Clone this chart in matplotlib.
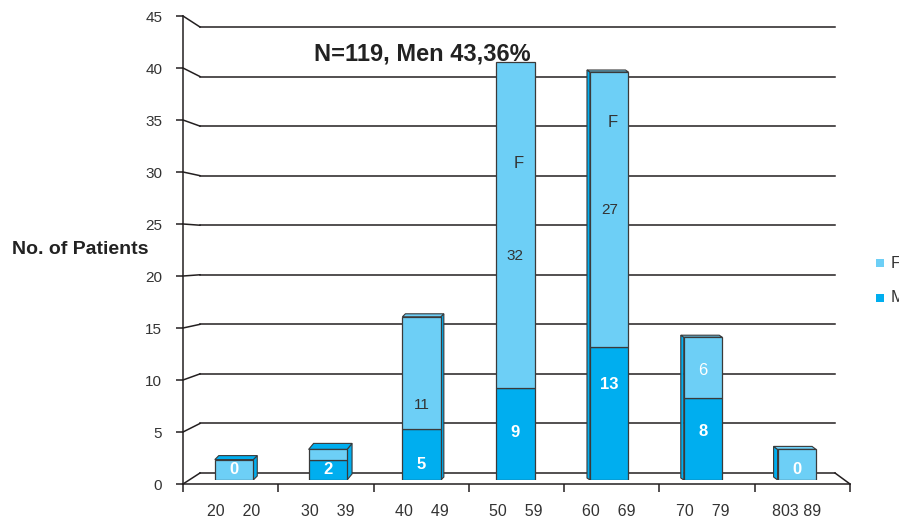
import matplotlib
matplotlib.use("Agg")
import matplotlib.pyplot as plt
from matplotlib.patches import Polygon
import numpy as np

plt.rcParams["font.family"] = ["Liberation Sans", "DejaVu Sans"]

# ── data ─────────────────────────────────────────────────────────────────────
age_groups = ["20    20", "30    39", "40    49", "50    59", "60    69", "70    79", "803 89"]
men = [0, 2, 5, 9, 13, 8, 0]
women = [2, 1, 11, 32, 27, 6, 3]
title = "N=119, Men 43,36%"

# ── style / layout ───────────────────────────────────────────────────────────
LIGHT = "#6dcff6"
DARK = "#00aeef"
EDGE = "#3a3a3a"
LINE = "#231f20"
W, H = 899, 519


def frac(x0, y_top, x1, y_bot):
    """pixel box -> figure fraction rect"""
    return [x0 / W, 1 - y_bot / H, (x1 - x0) / W, (y_bot - y_top) / H]


# label positions (data units) and 3D depth offsets (pixels)
men_label_y = [1.0, 1.0, 1.5, 4.7, 9.4, 4.8, 1.0]
women_label_y = [None, None, 7.4, 22.0, 26.5, 10.7, None]
f_mark_y = [None, None, None, 31.0, 35.0, None, None]
depth = [(4, 4), (5, 6), (3, 3), (0, 0), (-3, 2), (-3, 2), (-4, 3)]

fig = plt.figure(figsize=(W / 100, H / 100), dpi=100)

# back wall gridlines
ax_back = fig.add_axes(frac(200, 27, 835, 473))
ax_back.set_ylim(0, 45)
ax_back.set_xlim(0, 1)
ax_back.axis("off")
ticks = np.arange(0, 50, 5)
for v in ticks:
    ax_back.axhline(v, color=LINE, lw=1.1, clip_on=False)

# front axis
ax_front = fig.add_axes(frac(183, 16, 850, 484))
ax_front.set_ylim(0, 45)
ax_front.set_xlim(0, len(men))
ax_front.patch.set_alpha(0)
for s in ["top", "right"]:
    ax_front.spines[s].set_visible(False)
for s in ["left", "bottom"]:
    ax_front.spines[s].set_color(LINE)
    ax_front.spines[s].set_linewidth(1.1)
ax_front.set_yticks(ticks)
ax_front.set_xticks(np.arange(0, len(men) + 1) + 0.0)
ax_front.set_xticklabels([])
ax_front.tick_params(axis="y", length=5, width=1.1, color=LINE, labelsize=11,
                     labelcolor="#333333", pad=10)
ax_front.tick_params(axis="x", length=6, width=1.1, color=LINE)

# diagonal connectors between front ticks and back gridlines
fig.canvas.draw()
for v in ticks:
    p0 = ax_front.transData.transform((0, v))
    p1 = ax_back.transData.transform((0, v))
    fig.add_artist(plt.Line2D([p0[0], p1[0]], [p0[1], p1[1]], color=LINE, lw=1.1,
                              transform=None))
p0 = ax_front.transData.transform((len(men), 0))
p1 = ax_back.transData.transform((1, 0))
fig.add_artist(plt.Line2D([p1[0], p0[0]], [p1[1], p0[1]], color=LINE, lw=1.1,
                          transform=None))

# bars
ax = fig.add_axes(frac(183, 21, 850, 480))
ax.set_xlim(-0.544, 6.567)
ax.set_ylim(0, 45)
ax.axis("off")
x = np.arange(len(men))
bw = 0.41
px_x = 667 / (6.567 + 0.544)
px_y = 459 / 45

for i in range(len(men)):
    dx = depth[i][0] / px_x
    dy = depth[i][1] / px_y
    top = men[i] + women[i]
    x0, x1 = x[i] - bw / 2, x[i] + bw / 2
    if dx != 0:
        xs = x1 if dx > 0 else x0
        side = Polygon([(xs, 0), (xs + dx, dy), (xs + dx, top + dy), (xs, top)],
                       closed=True, fc=DARK, ec=EDGE, lw=0.8, zorder=1)
        ax.add_patch(side)
    if dy != 0:
        tcol = LIGHT if women[i] > 0 else DARK
        if i < 2:
            tcol = DARK
        topf = Polygon([(x0, top), (x1, top), (x1 + dx, top + dy), (x0 + dx, top + dy)],
                       closed=True, fc=tcol, ec=EDGE, lw=0.8, zorder=1)
        ax.add_patch(topf)

ax.bar(x, men, bw, color=DARK, edgecolor=EDGE, lw=0.9, zorder=2)
ax.bar(x, women, bw, bottom=men, color=LIGHT, edgecolor=EDGE, lw=0.9, zorder=2)

for i in range(len(men)):
    ax.text(x[i], men_label_y[i], str(men[i]), ha="center", va="center",
            color="white", fontsize=12, fontweight="bold", zorder=3)
    if women_label_y[i] is not None:
        col = "white" if i == 5 else "#333333"
        ax.text(x[i], women_label_y[i], str(women[i]), ha="center", va="center",
                color=col, fontsize=11 if i != 5 else 12, zorder=3)
    if f_mark_y[i] is not None:
        ax.text(x[i] + 0.04, f_mark_y[i], "F", ha="center", va="center",
                color="#333333", fontsize=12, zorder=3)

# category labels under the front axis
for i, lab in enumerate(age_groups):
    xd = ax.transData.transform((x[i], 0))[0] / W
    fig.text(xd, 1 - 511 / H, lab, ha="center", va="center", fontsize=11.5, color="#333333")

fig.text(314 / W, 1 - 54 / H, title, ha="left", va="center", fontsize=17,
         fontweight="bold", color="#222222", zorder=5)
fig.text(12 / W, 1 - 250 / H, "No. of Patients", ha="left", va="center", fontsize=14,
         fontweight="bold", color="#222222")

# legend (cut at the right edge, as in the source)
for yy, c, lab in [(263, LIGHT, "F"), (298, DARK, "M")]:
    fig.patches.append(plt.Rectangle((876 / W, 1 - (yy + 4) / H), 8 / W, 8 / H,
                                     transform=fig.transFigure, fc=c, ec="none"))
    fig.text(891 / W, 1 - yy / H, lab, ha="left", va="center", fontsize=12, color="#333333")

fig.savefig("out.png", dpi=100)
